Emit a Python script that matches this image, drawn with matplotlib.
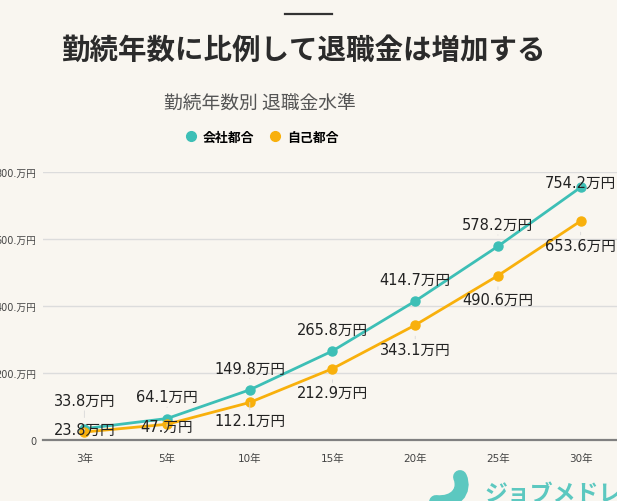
import matplotlib.pyplot as plt
from matplotlib.lines import Line2D
from matplotlib.path import Path
from matplotlib.patches import PathPatch

plt.rcParams['font.family'] = ['Noto Sans CJK JP', 'DejaVu Sans']
NUM_FONT = ['DejaVu Sans', 'Noto Sans CJK JP']

# data
years = ['3年', '5年', '10年', '15年', '20年', '25年', '30年']
company = [33.8, 64.1, 149.8, 265.8, 414.7, 578.2, 754.2]
voluntary = [23.8, 47.0, 112.1, 212.9, 343.1, 490.6, 653.6]
series_names = ['会社都合', '自己都合']
yticks = [0, 200, 400, 600, 800]

TEAL = '#3dbfb6'
ORANGE = '#f8b00c'
BG = '#f9f6f0'


def fmt(v):
    # the source drops trailing zero decimals, e.g. "47.万円"
    if v == 0:
        return '0'
    s = f'{v:.1f}'
    if s.endswith('0'):
        s = s[:-1]
    return s + '万円'


W, H = 617, 502
fig = plt.figure(figsize=(W / 100, H / 100), dpi=100, facecolor=BG)

ax_left, ax_right, ax_top, ax_bottom = 43, 622, 173, 441
ax = fig.add_axes([ax_left / W, 1 - ax_bottom / H,
                   (ax_right - ax_left) / W, (ax_bottom - ax_top) / H])
ax.set_facecolor(BG)

x = list(range(len(years)))
ax.plot(x, company, color=TEAL, lw=2, marker='o', ms=6.5, zorder=3)
ax.plot(x, voluntary, color=ORANGE, lw=2, marker='o', ms=6.5, zorder=3)

# labels sit above (company) / below (voluntary) the points,
# pushed back inside the plot area like the original chart does
for i, v in enumerate(company):
    ly = min(max(v + 65, 118), 768)
    ax.annotate(fmt(v), (i, v), xytext=(i, ly), textcoords='data',
                ha='center', va='center', fontsize=10.5, color='#222',
                family=NUM_FONT,
                arrowprops=dict(arrowstyle='-', color='#d8d8d8', lw=0.6,
                                shrinkA=0, shrinkB=8), zorder=4)
for i, v in enumerate(voluntary):
    ly = max(v - 72, 26 + 0.3 * v)
    ax.annotate(fmt(v), (i, v), xytext=(i, ly), textcoords='data',
                ha='center', va='center', fontsize=10.5, color='#222',
                family=NUM_FONT,
                arrowprops=dict(arrowstyle='-', color='#d8d8d8', lw=0.6,
                                shrinkA=0, shrinkB=8), zorder=4)

ax.set_xlim(-0.5, len(years) - 0.5)
ax.set_ylim(0, 800)
ax.set_xticks(x)
ax.set_xticklabels(years, fontsize=7.5, color='#444', family=NUM_FONT)
ax.set_yticks(yticks)
ax.set_yticklabels([fmt(t) for t in yticks], fontsize=7, color='#444',
                   family=NUM_FONT)
ax.tick_params(axis='both', length=0)
ax.tick_params(axis='x', pad=9)
ax.tick_params(axis='y', pad=5)
ax.grid(axis='y', color='#dcdcdc', lw=1)
ax.set_axisbelow(True)
for side in ['left', 'right', 'top']:
    ax.spines[side].set_visible(False)
ax.spines['bottom'].set_color('#808080')
ax.spines['bottom'].set_linewidth(1.6)

# header
fig.add_artist(Line2D([285 / W, 332 / W], [1 - 15 / H, 1 - 15 / H],
                      color='#333', lw=1.6))
fig.text(303 / W, 1 - 51 / H, '勤続年数に比例して退職金は増加する',
         ha='center', va='center', fontsize=20.5, fontweight='bold',
         color='#2b2b2b')
fig.text(260 / W, 1 - 103 / H, '勤続年数別 退職金水準',
         ha='center', va='center', fontsize=13.5, color='#555')

handles = [Line2D([], [], color=c, marker='o', ls='none', ms=7)
           for c in (TEAL, ORANGE)]
fig.legend(handles, series_names, loc='center', ncol=2, frameon=False,
           bbox_to_anchor=(261 / W, 1 - 138 / H),
           handletextpad=0.3, columnspacing=1.0, handlelength=1.2,
           prop={'weight': 'bold', 'size': 9.3})

# logo watermark
LOGO = '#5cc8c0'
verts = [(460 / W, 1 - 478 / H), (466 / W, 1 - 492 / H),
         (455 / W, 1 - 505 / H), (436 / W, 1 - 503 / H)]
path = Path(verts, [Path.MOVETO, Path.CURVE4, Path.CURVE4, Path.CURVE4])
fig.add_artist(PathPatch(path, facecolor='none', edgecolor=LOGO, lw=10,
                         capstyle='round'))
fig.text(484 / W, 1 - 495 / H, 'ジョブメドレー', ha='left', va='center',
         fontsize=16.5, fontweight='bold', color=LOGO)

fig.savefig('out.png', dpi=100, facecolor=BG)
